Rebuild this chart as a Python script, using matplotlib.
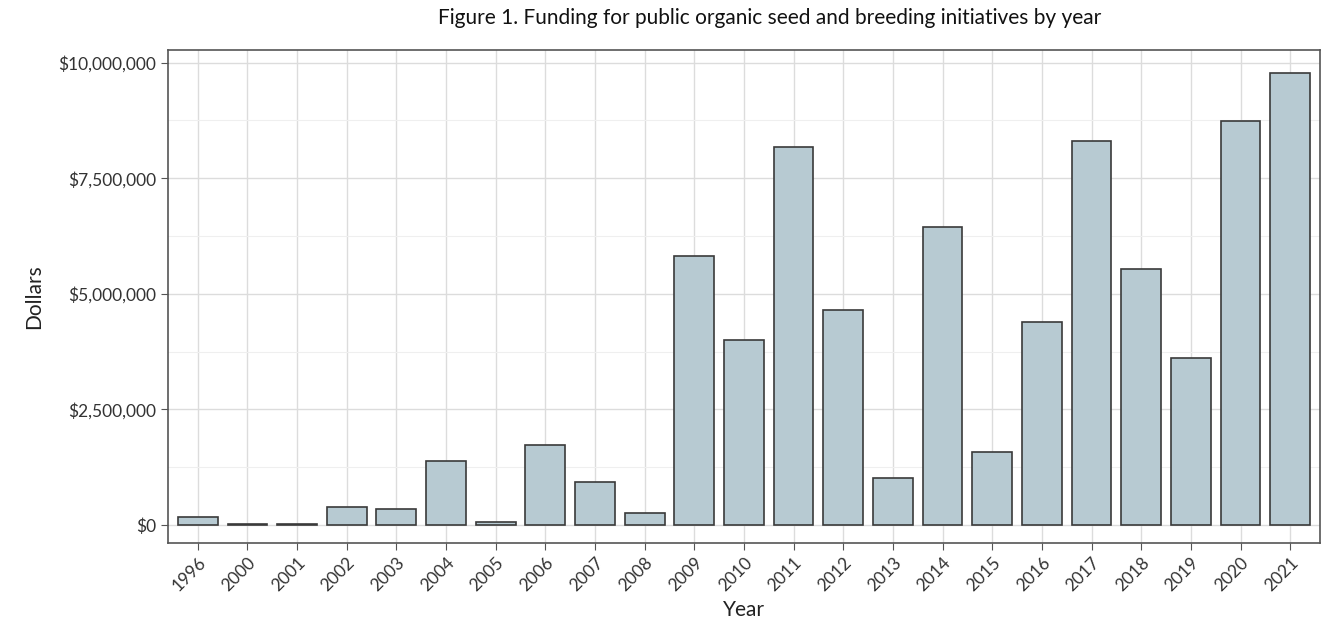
import matplotlib
matplotlib.use("Agg")
import matplotlib.pyplot as plt
from matplotlib.ticker import FuncFormatter, MultipleLocator

years = ["1996", "2000", "2001", "2002", "2003", "2004", "2005", "2006", "2007", "2008",
         "2009", "2010", "2011", "2012", "2013", "2014", "2015", "2016", "2017", "2018",
         "2019", "2020", "2021"]
funding = [170000, 20000, 25000, 390000, 350000, 1390000, 70000, 1720000, 930000, 260000,
           5810000, 4010000, 8170000, 4660000, 1010000, 6440000, 1580000, 4380000, 8300000,
           5540000, 3610000, 8730000, 9780000]

plt.rcParams['font.family'] = ['Lato', 'DejaVu Sans']

fig = plt.figure(figsize=(13.36, 6.27), dpi=100)
ax = fig.add_axes([0.1257, 0.134, 0.8623, 0.786])

x = range(len(years))
ax.bar(x, funding, width=0.8, color="#b7cad2", edgecolor="#3a3a3a", linewidth=1.2, zorder=3)

ax.set_xlim(-0.6, len(years) - 0.4)
ax.set_ylim(-390000, 10270000)
ax.set_xticks(list(x))
ax.set_xticklabels(years, rotation=45, ha="right", rotation_mode="anchor", fontsize=12.5, color="#333333")
ax.yaxis.set_major_locator(MultipleLocator(2500000))
ax.yaxis.set_minor_locator(MultipleLocator(1250000))
ax.yaxis.set_major_formatter(FuncFormatter(lambda v, p: "${:,.0f}".format(v)))
ax.tick_params(axis="y", labelsize=12.5, labelcolor="#333333", color="#555555", length=5)
ax.tick_params(axis="x", color="#555555", length=5)
ax.tick_params(axis="y", which="minor", length=0)

ax.grid(True, which="major", color="#dcdcdc", linewidth=1.0, zorder=0)
ax.grid(True, which="minor", axis="y", color="#efefef", linewidth=0.8, zorder=0)
for s in ax.spines.values():
    s.set_color("#555555")
    s.set_linewidth(1.2)

ax.set_xlabel("Year", fontsize=15, color="#222222", labelpad=4)
ax.set_ylabel("Dollars", fontsize=15, color="#222222", labelpad=10)
fig.text(0.576, 0.972, "Figure 1. Funding for public organic seed and breeding initiatives by year",
         ha="center", va="center", fontsize=15, color="#111111")

fig.savefig("out.png", dpi=100)
